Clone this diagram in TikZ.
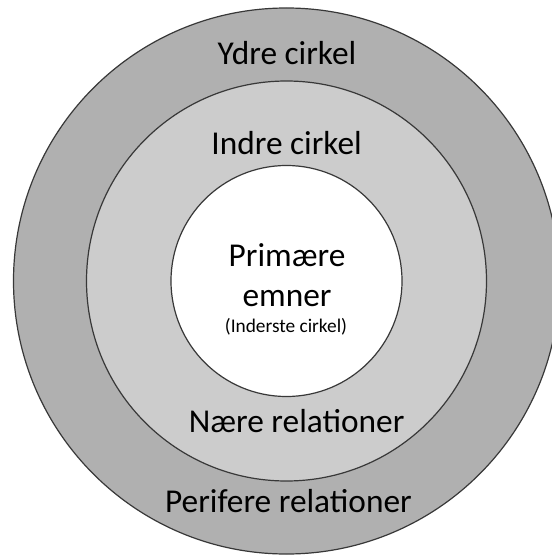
\documentclass[tikz,border=0pt]{standalone}
\usepackage{fontspec}
\setmainfont{Carlito}
\begin{document}
\begin{tikzpicture}[x=0.75pt,y=-0.75pt,
  ring/.style={draw=black!78,line width=0.9pt},
  bigtext/.style={font=\fontsize{25}{29}\selectfont,anchor=base,inner sep=0pt},
  smalltext/.style={font=\fontsize{14.5}{17}\selectfont,anchor=base,inner sep=0pt}]
\useasboundingbox (0,0) rectangle (552,556);
\clip (0,0) rectangle (552,556);
\fill[white] (0,0) rectangle (552,556);
% three nested circles
\coordinate (c) at (286.5,281);
\draw[ring,fill={rgb,255:red,176;green,176;blue,176}] (c) circle[radius=273];
\draw[ring,fill={rgb,255:red,204;green,204;blue,204}] (c) circle[radius=200];
\draw[ring,fill=white] (c) circle[radius=115.5];
% labels
\node[bigtext] (ydre) at (287,64.4) {Ydre cirkel};
\node[bigtext] (indre) at (286.6,154) {Indre cirkel};
\node[bigtext] (prim) at (287,266.5) {Primære};
\node[bigtext] (emner) at (287,306) {emner};
\node[smalltext] (inderste) at (286,332.7) {(Inderste cirkel)};
\node[bigtext] (naere) at (296.6,432.4) {Nære relationer};
\node[bigtext] (perif) at (288.4,512) {Perifere relationer};
\end{tikzpicture}
\end{document}
